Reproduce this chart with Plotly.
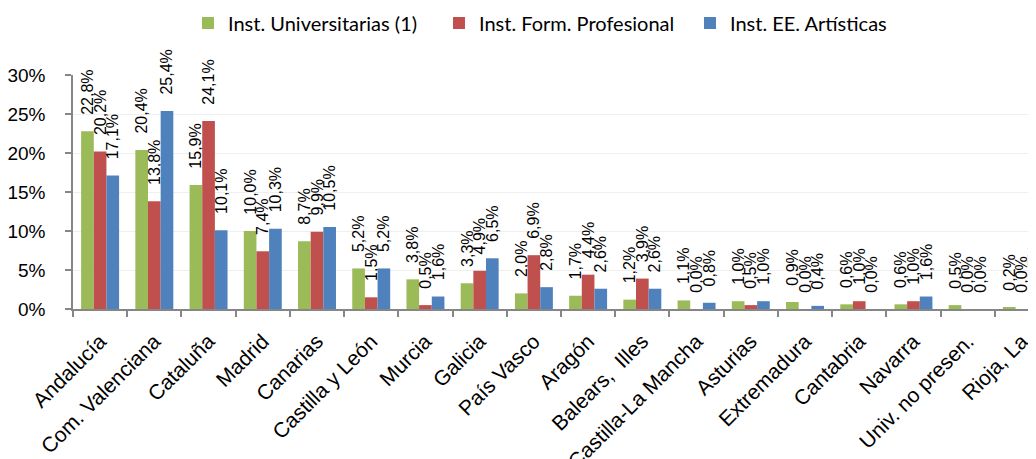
import plotly.graph_objects as go

categories = ["Andalucía", "Com. Valenciana", "Cataluña", "Madrid", "Canarias",
              "Castilla y León", "Murcia", "Galicia", "País Vasco", "Aragón",
              "Balears,  Illes", "Castilla-La Mancha", "Asturias", "Extremadura",
              "Cantabria", "Navarra", "Univ. no presen.", "Rioja, La"]

univ = [22.8, 20.4, 15.9, 10.0, 8.7, 5.2, 3.8, 3.3, 2.0, 1.7, 1.2, 1.1, 1.0, 0.9, 0.6, 0.6, 0.5, 0.2]
fprof = [20.2, 13.8, 24.1, 7.4, 9.9, 1.5, 0.5, 4.9, 6.9, 4.4, 3.9, 0.0, 0.5, 0.0, 1.0, 1.0, 0.0, 0.0]
artis = [17.1, 25.4, 10.1, 10.3, 10.5, 5.2, 1.6, 6.5, 2.8, 2.6, 2.6, 0.8, 1.0, 0.4, 0.0, 1.6, 0.0, 1.5]

series_names = ["Inst. Universitarias (1)", "Inst. Form. Profesional", "Inst. EE. Artísticas"]
series_vals = [univ, fprof, artis]
colors = ["#9BBB59", "#C0504D", "#4F81BD"]

yticks = [0, 0.05, 0.10, 0.15, 0.20, 0.25, 0.30]
yticklabels = ["0%", "5%", "10%", "15%", "20%", "25%", "30%"]

LABEL_FONT = "Liberation Sans, Arial, sans-serif"
PAD = "\u00a0\u00a0\u00a0"

def fmt(v):
    return PAD + ("%.1f" % v).replace(".", ",") + "%"

fig = go.Figure()
for name, vals, col in zip(series_names, series_vals, colors):
    fig.add_trace(go.Bar(
        name=name,
        x=categories,
        y=[v / 100 for v in vals],
        marker=dict(color=col, line=dict(width=0)),
        text=[fmt(v) for v in vals],
        textposition="outside",
        textangle=-90,
        cliponaxis=False,
        constraintext="none",
        textfont=dict(family=LABEL_FONT, size=16, color="#000000"),
        hoverinfo="skip",
    ))

fig.update_layout(
    width=1028, height=451,
    margin=dict(l=65, r=0, t=67, b=150, pad=0, autoexpand=False),
    paper_bgcolor="white", plot_bgcolor="white",
    barmode="group", bargap=0.30, bargroupgap=0,
    uniformtext=dict(mode=False),
    legend=dict(orientation="h", x=0.1194, y=1.222, xanchor="left", yanchor="middle",
                font=dict(family="Lato, Noto Sans, sans-serif", size=20, color="#000000"),
                itemwidth=30, entrywidth=206, traceorder="normal", bgcolor="rgba(0,0,0,0)"),
    showlegend=True,
    font=dict(family=LABEL_FONT, color="#000000"),
)
fig.update_xaxes(
    range=[-0.5, 17.26], automargin=False,
    showline=True, linecolor="#868686", linewidth=1.5,
    ticks="outside", tickson="boundaries", ticklen=6, tickcolor="#868686", tickwidth=1.5,
    tickangle=-45, ticklabelstandoff=10,
    tickfont=dict(family=LABEL_FONT, size=21, color="#000000"),
    showgrid=False,
)
fig.update_yaxes(
    range=[0, 0.30], automargin=False,
    tickvals=yticks, ticktext=yticklabels,
    showline=True, linecolor="#868686", linewidth=1.5,
    ticks="outside", ticklen=6, tickcolor="#868686", tickwidth=1.5,
    ticklabelstandoff=16,
    tickfont=dict(family=LABEL_FONT, size=19, color="#000000"),
    showgrid=True, gridcolor="#EFEFEF", gridwidth=1,
    zeroline=False,
)

fig.write_html("out.html")
